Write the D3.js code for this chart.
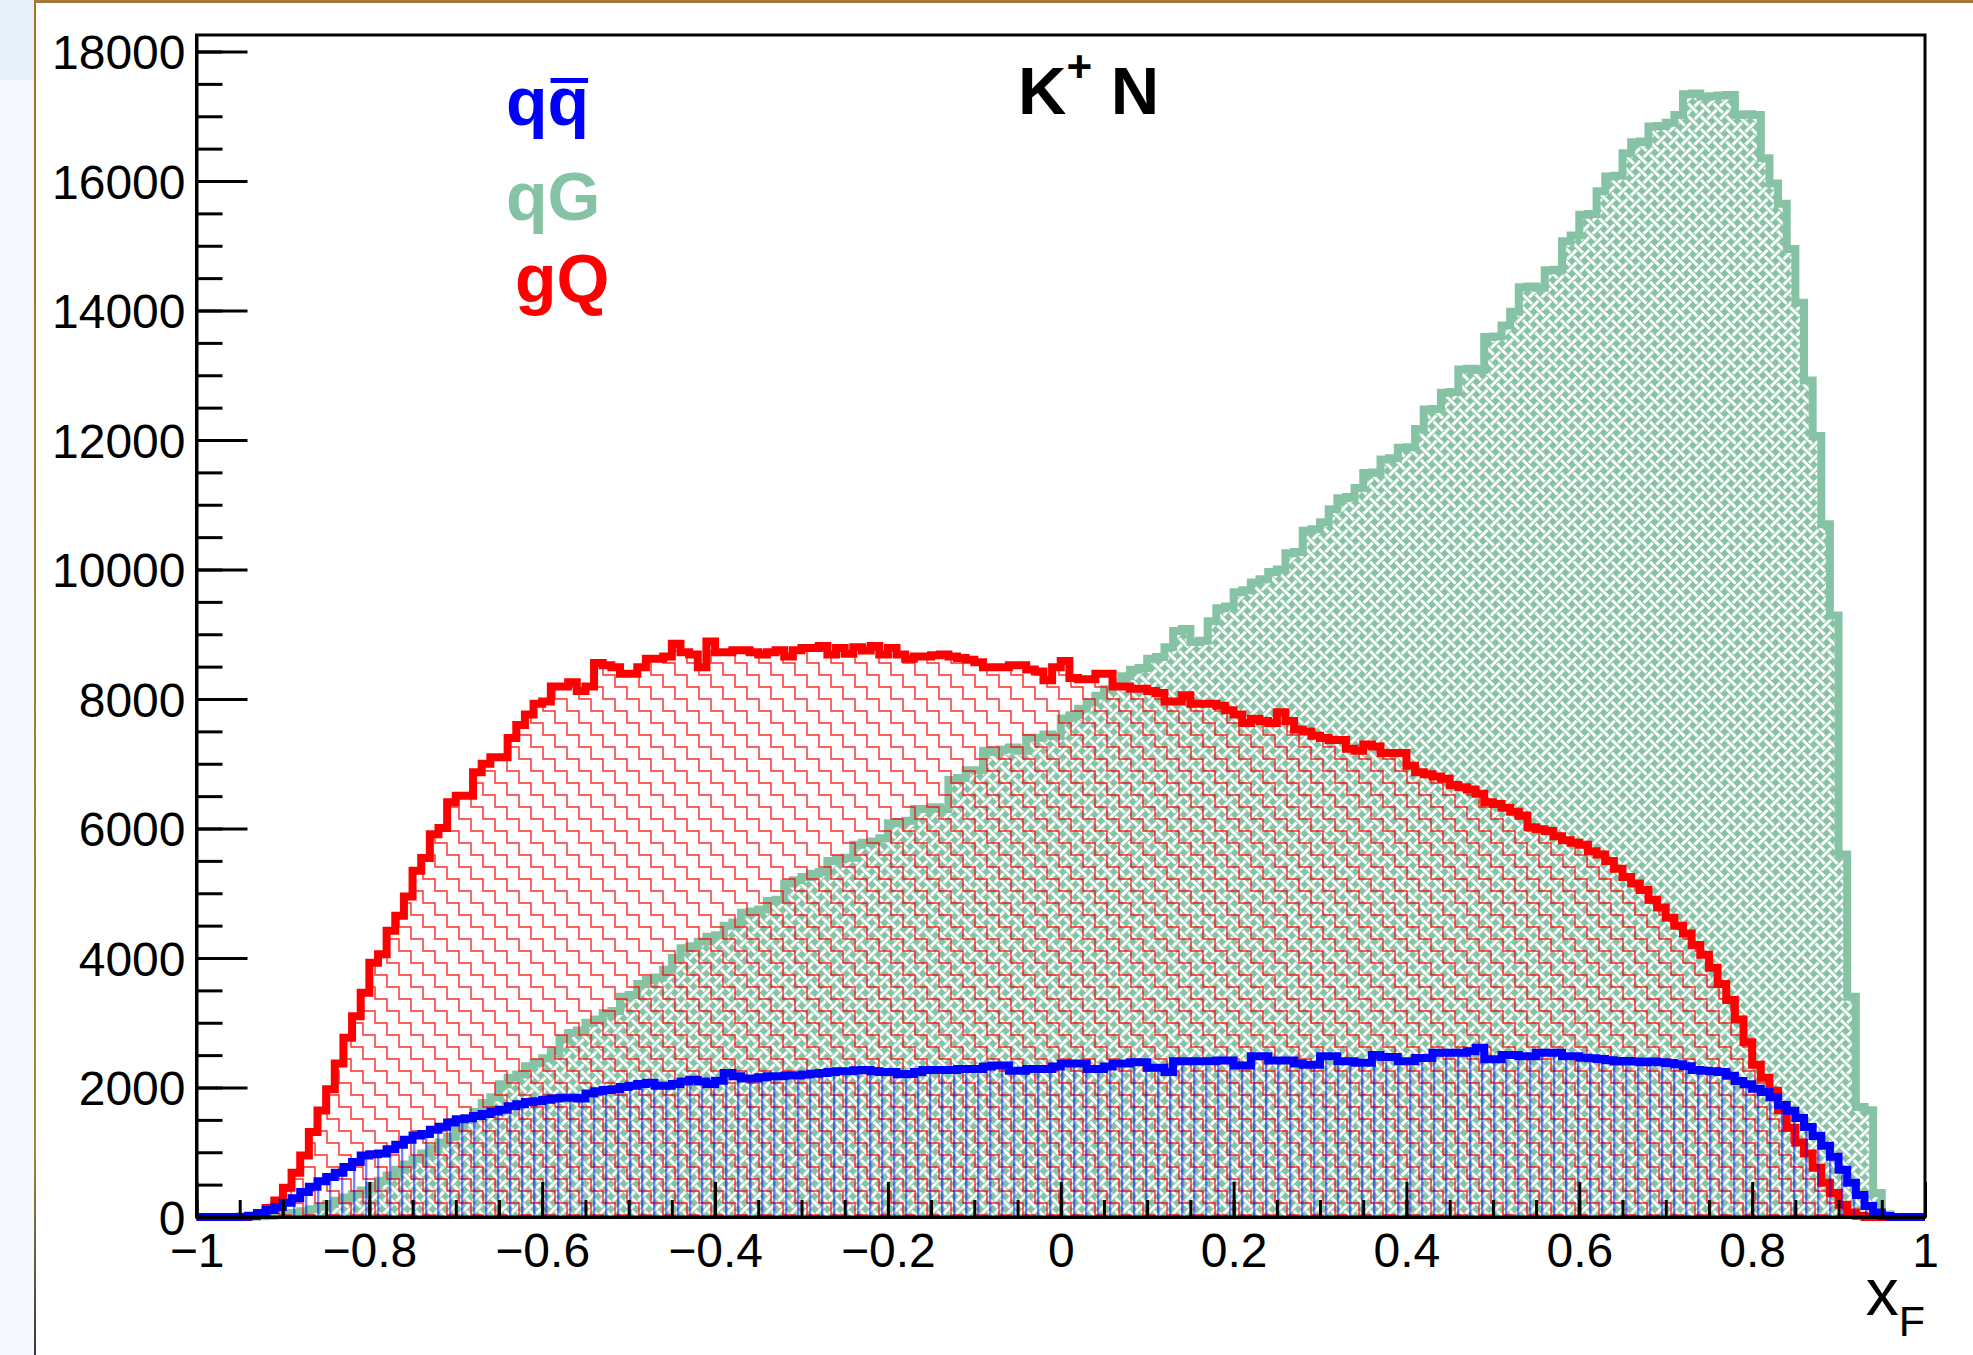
<!DOCTYPE html>
<html>
<head>
<meta charset="utf-8">
<title>xF distributions, K+ N</title>
<script src="https://cdn.jsdelivr.net/npm/d3@7"></script>
<style>
  html, body { margin: 0; padding: 0; background: #ffffff; }
  svg { display: block; }
  text { font-family: "Liberation Sans", Arial, Helvetica, sans-serif; }
</style>
</head>
<body>
<svg id="chart"></svg>
<script>
// 200 bins of width 0.01 between xF = -1 and xF = 1
const xMin = -1, xMax = 1, nBins = 200;

// gQ  (red)
const gQCounts = [
  0, 0, 0, 0, 0, 0, 15, 60, 140, 255,
  453, 685, 949, 1313, 1644, 1974, 2371, 2768, 3099, 3462,
  3925, 4058, 4421, 4653, 4950, 5347, 5546, 5910, 6009, 6406,
  6505, 6505, 6869, 7001, 7100, 7100, 7398, 7597, 7762, 7927,
  7960, 8192, 8192, 8258, 8125, 8192, 8556, 8523, 8489, 8390,
  8390, 8489, 8622, 8622, 8655, 8853, 8721, 8688, 8489, 8887,
  8721, 8721, 8754, 8754, 8721, 8688, 8721, 8754, 8655, 8754,
  8787, 8787, 8820, 8688, 8787, 8700, 8800, 8750, 8820, 8687,
  8787, 8687, 8622, 8655, 8655, 8674, 8687, 8655, 8635, 8608,
  8569, 8489, 8489, 8489, 8522, 8522, 8456, 8423, 8291, 8489,
  8588, 8324, 8304, 8304, 8390, 8390, 8192, 8192, 8159, 8159,
  8125, 8092, 7960, 7960, 8059, 7927, 7927, 7927, 7894, 7828,
  7762, 7629, 7696, 7662, 7629, 7795, 7662, 7530, 7497, 7431,
  7398, 7365, 7365, 7233, 7200, 7299, 7266, 7167, 7167, 7167,
  6968, 6869, 6836, 6803, 6770, 6671, 6637, 6604, 6538, 6406,
  6380, 6320, 6260, 6200, 6020, 5990, 5960, 5880, 5820, 5780,
  5750, 5650, 5600, 5500, 5380, 5250, 5150, 5050, 4900, 4780,
  4620, 4500, 4380, 4200, 4050, 3850, 3600, 3350, 3050, 2700,
  2350, 2150, 1950, 1650, 1380, 1150, 980, 760, 530, 370,
  190, 70, 20, 0, 0, 0, 0, 0, 0, 0
];

// qG  (green)
const qGCounts = [
  0, 0, 0, 0, 0, 0, 5, 10, 20, 30,
  45, 60, 90, 120, 160, 200, 250, 300, 350, 410,
  480, 560, 640, 730, 810, 890, 980, 1060, 1150, 1240,
  1380, 1500, 1620, 1760, 1850, 2050, 2150, 2200, 2330, 2380,
  2450, 2560, 2750, 2840, 2880, 3000, 3050, 3150, 3180, 3400,
  3430, 3600, 3660, 3700, 3820, 4000, 4150, 4180, 4250, 4330,
  4350, 4500, 4550, 4700, 4720, 4750, 4880, 4900, 5150, 5200,
  5250, 5300, 5330, 5500, 5530, 5550, 5750, 5780, 5800, 5850,
  6080, 6100, 6120, 6300, 6300, 6330, 6300, 6750, 6780, 6900,
  6900, 7200, 7180, 7220, 7250, 7200, 7400, 7400, 7450, 7430,
  7700, 7750, 7850, 7950, 8050, 8150, 8250, 8350, 8450, 8480,
  8620, 8650, 8800, 9050, 9080, 8880, 8900, 9200, 9400, 9430,
  9650, 9680, 9800, 9850, 9960, 10000, 10250, 10270, 10600, 10620,
  10730, 10930, 11100, 11120, 11260, 11490, 11500, 11700, 11720, 11880,
  11890, 12170, 12470, 12480, 12730, 12740, 13090, 13100, 13080, 13590,
  13600, 13770, 13980, 14360, 14370, 14350, 14620, 14630, 15070, 15160,
  15480, 15490, 15840, 16070, 16080, 16430, 16600, 16610, 16840, 16850,
  16900, 17020, 17340, 17350, 17300, 17310, 17320, 17330, 17020, 17030,
  17020, 16350, 15960, 15650, 14950, 14120, 12920, 12060, 10700, 9290,
  5600, 3400, 1700, 1650, 370, 40, 0, 0, 0, 0
];

// q qbar  (blue)
const qqbarCounts = [
  0, 0, 0, 0, 0, 5, 20, 56, 109, 155,
  221, 288, 387, 466, 552, 618, 685, 771, 850, 949,
  970, 982, 1048, 1114, 1194, 1260, 1280, 1346, 1392, 1458,
  1511, 1525, 1558, 1591, 1630, 1657, 1710, 1743, 1776, 1789,
  1809, 1829, 1842, 1842, 1829, 1908, 1941, 1961, 1974, 2007,
  2027, 2053, 2073, 2027, 2027, 2053, 2093, 2120, 2093, 2053,
  2106, 2225, 2172, 2139, 2139, 2159, 2172, 2172, 2185, 2185,
  2199, 2212, 2225, 2238, 2252, 2252, 2265, 2270, 2250, 2240,
  2240, 2206, 2210, 2239, 2272, 2272, 2272, 2272, 2285, 2285,
  2285, 2325, 2338, 2338, 2259, 2259, 2285, 2285, 2285, 2325,
  2371, 2371, 2371, 2285, 2285, 2325, 2371, 2371, 2391, 2391,
  2305, 2305, 2239, 2404, 2404, 2404, 2404, 2404, 2417, 2417,
  2338, 2338, 2483, 2483, 2417, 2417, 2417, 2371, 2351, 2351,
  2483, 2483, 2404, 2404, 2384, 2384, 2503, 2470, 2470, 2404,
  2404, 2457, 2457, 2536, 2536, 2536, 2536, 2560, 2615, 2437,
  2437, 2503, 2503, 2483, 2483, 2536, 2536, 2536, 2483, 2483,
  2460, 2450, 2440, 2420, 2400, 2410, 2400, 2390, 2400, 2390,
  2380, 2360, 2330, 2270, 2260, 2250, 2240, 2180, 2100, 2050,
  1980, 1930, 1850, 1730, 1640, 1530, 1390, 1250, 1100, 930,
  730, 530, 340, 170, 70, 15, 0, 0, 0, 0
];

const xMajorTicks = [-1, -0.8, -0.6, -0.4, -0.2, 0, 0.2, 0.4, 0.6, 0.8, 1];
const xTickLabels = ["\u22121", "\u22120.8", "\u22120.6", "\u22120.4", "\u22120.2", "0", "0.2", "0.4", "0.6", "0.8", "1"];
const yMajorTicks = [0, 2000, 4000, 6000, 8000, 10000, 12000, 14000, 16000, 18000];
const yTop = 18255;   // upper edge of the frame

const config = {
  width: 1973,
  height: 1355,
  frame: { left: 196.5, right: 1925, top: 35, bottom: 1217 },
  labelSize: 48,
  green: '#86c3a5',
  red: '#ff0000',
  blue: '#0000ff'
};

const svg = d3.select('#chart')
  .attr('width', config.width)
  .attr('height', config.height);

// --- the slide around the plot (left strip + thin top border) ---
svg.append('rect').attr('x', 0).attr('y', 0).attr('width', 35).attr('height', config.height).attr('fill', '#f6f8fd');
svg.append('rect').attr('x', 0).attr('y', 0).attr('width', 35).attr('height', 80).attr('fill', '#e8f0fa');
const grad = svg.append('defs').append('linearGradient').attr('id', 'edge').attr('x1', 0).attr('y1', 0).attr('x2', 0).attr('y2', 1);
grad.append('stop').attr('offset', '0%').attr('stop-color', '#a4722c');
grad.append('stop').attr('offset', '85%').attr('stop-color', '#9a8a3a');
grad.append('stop').attr('offset', '100%').attr('stop-color', '#333a44');
svg.append('rect').attr('x', 34).attr('y', 0).attr('width', 2).attr('height', config.height).attr('fill', 'url(#edge)');
svg.append('rect').attr('x', 34).attr('y', 0).attr('width', config.width - 34).attr('height', 3).attr('fill', '#a8773a');

const defs = svg.append('defs');

// red staircase hatch
const stairs = defs.append('pattern')
  .attr('id', 'stairs')
  .attr('patternUnits', 'userSpaceOnUse')
  .attr('width', 24).attr('height', 24);
function stairPath(dy) {
  let p = '';
  for (let k = -3; k <= 4; k++) {
    const x0 = 12 * k + 3, y0 = 12 * k + 3 + dy;
    p += (k === -3 ? 'M' : 'L') + x0 + ',' + y0 + ' H' + (x0 + 12) + ' V' + (y0 + 12) + ' ';
  }
  return p;
}
stairs.selectAll('path')
  .data([-24, 0, 24])
  .join('path')
    .attr('d', d => stairPath(d))
    .attr('fill', 'none')
    .attr('stroke', config.red)
    .attr('stroke-opacity', 0.85)
    .attr('stroke-width', 1.4);

// blue vertical hatch
const vlines = defs.append('pattern')
  .attr('id', 'vlines')
  .attr('patternUnits', 'userSpaceOnUse')
  .attr('width', 12).attr('height', 12);
vlines.append('rect')
  .attr('x', 5).attr('y', 0).attr('width', 2.4).attr('height', 12)
  .attr('fill', config.blue).attr('fill-opacity', 0.5);

// green basket weave
const a = 9, w = 3, g = 2.5;
const weave = defs.append('pattern')
  .attr('id', 'weave')
  .attr('patternUnits', 'userSpaceOnUse')
  .attr('width', 2 * a).attr('height', 2 * a)
  .attr('patternTransform', 'rotate(45)');
weave.append('rect').attr('width', 2 * a).attr('height', 2 * a).attr('fill', config.green);
const bars = [];
for (let i = 0; i < 2; i++) {
  for (let j = 0; j < 2; j++) {
    const horiz = (i + j) % 2 === 0;
    for (const ox of [-2 * a, 0, 2 * a]) {
      for (const oy of [-2 * a, 0, 2 * a]) {
        bars.push({ cx: (i + 0.5) * a + ox, cy: (j + 0.5) * a + oy, horiz: horiz });
      }
    }
  }
}
weave.selectAll('rect.bar')
  .data(bars)
  .join('rect')
    .attr('class', 'bar')
    .attr('x', d => d.horiz ? d.cx - (a - g) : d.cx - w / 2)
    .attr('y', d => d.horiz ? d.cy - w / 2 : d.cy - (a - g))
    .attr('width', d => d.horiz ? 2 * (a - g) : w)
    .attr('height', d => d.horiz ? w : 2 * (a - g))
    .attr('fill', '#ffffff');

// scales
const xScale = d3.scaleLinear().domain([xMin, xMax]).range([config.frame.left, config.frame.right]);
const yScale = d3.scaleLinear().domain([0, yTop]).range([config.frame.bottom, config.frame.top]);

const binW = (xMax - xMin) / nBins;
function toSteps(counts) {
  const pts = counts.map((c, i) => [xMin + i * binW, c]);
  pts.push([xMax, counts[counts.length - 1]]);
  return pts;
}

const area = d3.area()
  .curve(d3.curveStepAfter)
  .x(d => xScale(d[0]))
  .y0(yScale(0))
  .y1(d => yScale(d[1]));

const line = d3.line()
  .curve(d3.curveStepAfter)
  .x(d => xScale(d[0]))
  .y(d => yScale(d[1]));

// draw order as in the original: qG, then gQ, then q qbar
const series = [
  { name: 'qG', counts: qGCounts, color: config.green, fill: 'url(#weave)' },
  { name: 'gQ', counts: gQCounts, color: config.red, fill: 'url(#stairs)' },
  { name: 'qqbar', counts: qqbarCounts, color: config.blue, fill: 'url(#vlines)' }
];

const plot = svg.append('g');
series.forEach(s => {
  const pts = toSteps(s.counts);
  plot.append('path')
    .attr('class', 'fill ' + s.name)
    .attr('d', area(pts))
    .attr('fill', s.fill);
  plot.append('path')
    .attr('class', 'outline ' + s.name)
    .attr('d', line(pts))
    .attr('fill', 'none')
    .attr('stroke', s.color)
    .attr('stroke-width', 8)
    .attr('stroke-linejoin', 'miter');
});

// axes (ticks point into the frame, like ROOT)
const xMinor = d3.range(-1, 1.0001, 0.05);
const yMinor = d3.range(0, 18001, 500);

svg.append('g')
  .attr('transform', `translate(0,${config.frame.bottom})`)
  .call(d3.axisBottom(xScale).tickValues(xMinor).tickSizeInner(-17).tickSizeOuter(0).tickFormat(''))
  .call(g => g.select('.domain').remove());

const xAxisG = svg.append('g')
  .attr('class', 'axis x-axis')
  .attr('transform', `translate(0,${config.frame.bottom})`)
  .call(d3.axisBottom(xScale)
    .tickValues(xMajorTicks)
    .tickSizeInner(-35)
    .tickSizeOuter(0)
    .tickPadding(16)
    .tickFormat((d, i) => xTickLabels[i]));

svg.append('g')
  .attr('transform', `translate(${config.frame.left},0)`)
  .call(d3.axisLeft(yScale).tickValues(yMinor).tickSizeInner(-26).tickSizeOuter(0).tickFormat(''))
  .call(g => g.select('.domain').remove());

const yAxisG = svg.append('g')
  .attr('class', 'axis y-axis')
  .attr('transform', `translate(${config.frame.left},0)`)
  .call(d3.axisLeft(yScale)
    .tickValues(yMajorTicks)
    .tickSizeInner(-51)
    .tickSizeOuter(0)
    .tickPadding(11)
    .tickFormat(d3.format('d')));

svg.selectAll('.tick line').attr('stroke', '#000').attr('stroke-width', 3);
svg.selectAll('.domain').attr('stroke', '#000').attr('stroke-width', 3);
svg.selectAll('.axis text')
  .attr('font-size', config.labelSize)
  .attr('font-family', '"Liberation Sans", Arial, Helvetica, sans-serif')
  .attr('fill', '#000');
yAxisG.selectAll('text').attr('dy', '0.36em');

// frame
svg.append('rect')
  .attr('x', config.frame.left)
  .attr('y', config.frame.top)
  .attr('width', config.frame.right - config.frame.left)
  .attr('height', config.frame.bottom - config.frame.top)
  .attr('fill', 'none')
  .attr('stroke', '#000')
  .attr('stroke-width', 3);

// axis title x_F
const xTitle = svg.append('text')
  .attr('x', config.frame.right)
  .attr('y', 1315)
  .attr('text-anchor', 'end')
  .attr('font-size', 66)
  .attr('fill', '#000');
xTitle.append('tspan').text('x');
xTitle.append('tspan').attr('font-size', 43).attr('dy', 21).text('F');

// title K+ N
const title = svg.append('text')
  .attr('x', 1018)
  .attr('y', 114)
  .attr('font-size', 67)
  .attr('font-weight', 'bold')
  .attr('fill', '#000');
title.append('tspan').text('K');
title.append('tspan').attr('font-size', 44).attr('dy', -32).text('+');
title.append('tspan').attr('dy', 32).text('\u00a0N');

// legend labels
const legendLabels = [
  { text: 'qq', color: config.blue, x: 506, y: 125, bar: true },
  { text: 'qG', color: config.green, x: 506, y: 220, bar: false },
  { text: 'gQ', color: config.red, x: 515, y: 302, bar: false }
];
legendLabels.forEach(l => {
  const t = svg.append('text')
    .attr('x', l.x)
    .attr('y', l.y)
    .attr('font-size', 68)
    .attr('font-weight', 'bold')
    .attr('fill', l.color)
    .text(l.text);
  if (l.bar) {
    // bar over the second q (anti-quark)
    const node = t.node();
    const w1 = node.getSubStringLength(0, 1);
    const wAll = node.getComputedTextLength();
    svg.append('rect')
      .attr('x', l.x + w1 + 3)
      .attr('y', 78)
      .attr('width', wAll - w1 - 4)
      .attr('height', 5)
      .attr('fill', l.color);
  }
});
</script>
</body>
</html>
